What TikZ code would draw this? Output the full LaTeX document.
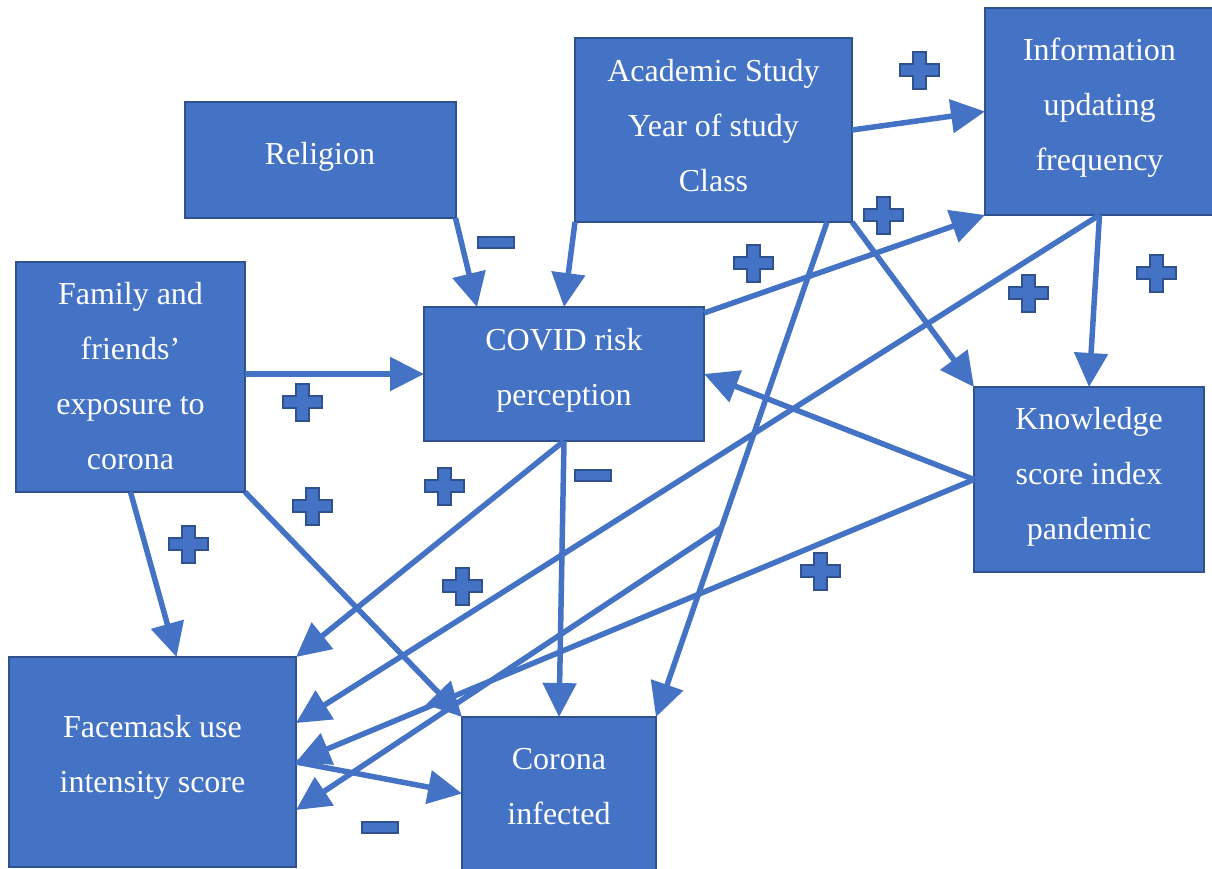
\documentclass[tikz,border=0pt]{standalone}
\usepackage{fontspec}
\setmainfont{Liberation Serif}
\usetikzlibrary{arrows.meta,calc}
\definecolor{boxblue}{HTML}{4472C4}
\definecolor{boxedge}{HTML}{2F528F}
\tikzset{
  box/.style={draw=boxedge, fill=boxblue, line width=2pt, inner sep=0pt, outer sep=0pt},
  txt/.style={text=white, font=\fontsize{32}{55}\selectfont, align=center, inner sep=0pt},
  conn/.style={draw=boxblue, line width=5.5pt, -{Triangle[length=34pt,width=33pt]}},
  signstyle/.style={draw=boxedge, fill=boxblue, line width=2pt},
  pics/plussign/.style={code={
    \draw[signstyle] (-6.5,-18.5) -- (6.5,-18.5) -- (6.5,-6) -- (19.5,-6) -- (19.5,6)
      -- (6.5,6) -- (6.5,18.5) -- (-6.5,18.5) -- (-6.5,6) -- (-19.5,6) -- (-19.5,-6)
      -- (-6.5,-6) -- cycle;}},
  pics/minussign/.style={code={
    \draw[signstyle] (-18,-5.5) rectangle (18,5.5);}}
}
\begin{document}
\begin{tikzpicture}[x=1pt,y=-1pt]
\useasboundingbox (0,0) rectangle (1212,868);
\clip (0,0) rectangle (1212,868);
% boxes
\node[box, minimum width=271pt, minimum height=116pt] (religion) at (320,160) {};
\node[box, minimum width=277pt, minimum height=184pt] (academic) at (713.5,130) {};
\node[box, minimum width=229pt, minimum height=207pt] (info) at (1099.5,111.5) {};
\node[box, minimum width=229pt, minimum height=230pt] (family) at (130.5,377) {};
\node[box, minimum width=280pt, minimum height=134pt] (covid) at (564,374) {};
\node[box, minimum width=230pt, minimum height=185pt] (knowledge) at (1089,479.5) {};
\node[box, minimum width=287pt, minimum height=210pt] (facemask) at (152.5,762) {};
\node[box, minimum width=194pt, minimum height=153pt] (corona) at (559,793.5) {};
% texts
\node[txt] (religionT) at ($(religion)+(0,-3)$) {Religion};
\node[txt] (academicT) at ($(academic)+(0,-4)$) {Academic Study\\Year of study\\Class};
\node[txt] (infoT) at ($(info)+(0,-4)$) {Information\\updating\\frequency};
\node[txt] (familyT) at ($(family)+(0,-1)$) {Family and\\friends’\\exposure to\\corona};
\node[txt] (covidT) at ($(covid)+(0,-4)$) {COVID risk\\perception};
\node[txt] (knowledgeT) at ($(knowledge)+(0,-3)$) {Knowledge\\score index\\pandemic};
\node[txt] (facemaskT) at ($(facemask)+(0,-5)$) {Facemask use\\intensity score};
\node[txt] (coronaT) at ($(corona)+(0,-7)$) {Corona\\infected};
% connectors
\draw[conn] (religion.south east) -- ($(covid.north west)+(53,0)$);
\draw[conn] (academic.south west) -- (covid.north);
\draw[conn] (academic.east) -- (info.west);
\draw[conn] ($(covid.north east)+(0,6)$) -- (info.south west);
\draw[conn] (academic.south east) -- (knowledge.north west);
\draw[conn] (info.south) -- (knowledge.north);
\draw[conn] (info.south) -- ($(facemask.east)+(0,-39)$);
\draw[conn] (knowledge.west) -- (covid.east);
\draw[conn] (knowledge.west) -- (facemask.east);
\coordinate (acadA) at ($(academic.south east)+(-25,0)$);
\draw[conn] (acadA) -- (corona.north east);
\coordinate (branch) at ($(acadA)!0.618!(corona.north east)$);
\draw[conn] (branch) -- ($(facemask.east)+(0,48)$);
\draw[conn] (covid.south) -- (corona.north);
\draw[conn] (covid.south) -- (facemask.north east);
\draw[conn] (family.east |- covid.west) -- (covid.west);
\draw[conn] (family.south east) -- (corona.north west);
\draw[conn] (family.south) -- ($(facemask.north)+(24,0)$);
\draw[conn] (facemask.east) -- (corona.west);
% signs
\pic at (919,70) {plussign};
\pic at (883,215) {plussign};
\pic at (753,263) {plussign};
\pic at (1028,293) {plussign};
\pic at (1156,273) {plussign};
\pic at (302,402) {plussign};
\pic at (312,506) {plussign};
\pic at (444,486) {plussign};
\pic at (188,544) {plussign};
\pic at (462,586) {plussign};
\pic at (820,571) {plussign};
\pic at (496,242) {minussign};
\pic at (593,475) {minussign};
\pic at (380,827) {minussign};
\end{tikzpicture}
\end{document}
